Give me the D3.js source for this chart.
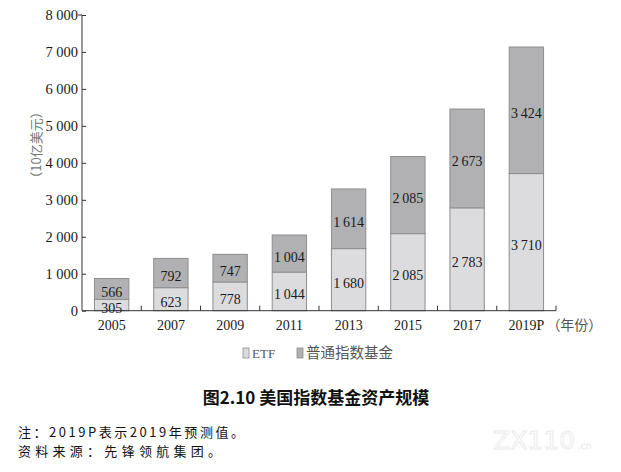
<!DOCTYPE html>
<html>
<head>
<meta charset="utf-8">
<script src="https://cdn.jsdelivr.net/npm/d3@7/dist/d3.min.js"></script>
<style>
  html, body { margin: 0; padding: 0; background: #fff; }
  svg { display: block; }
</style>
</head>
<body>
<svg id="chart" width="621" height="472"></svg>
<script>
const years = ["2005", "2007", "2009", "2011", "2013", "2015", "2017", "2019P"];
const etfValues = [305, 623, 778, 1044, 1680, 2085, 2783, 3710];
const indexFundValues = [566, 792, 747, 1004, 1614, 2085, 2673, 3424];
const yTicks = [0, 1000, 2000, 3000, 4000, 5000, 6000, 7000, 8000];
const seriesNames = ["ETF", "普通指数基金"];
const titleText = "图2.10 美国指数基金资产规模";
const noteLines = ["注：2019P表示2019年预测值。", "资料来源：先锋领航集团。"];
const yAxisLabel = "（10亿美元）";
const xUnitLabel = "（年份）";

const colors = ["#dcdcdf", "#b1b1b4"];
const serif = "'Liberation Serif', 'DejaVu Serif', serif";
const cjk = "'Noto Sans CJK SC', 'Noto Sans', sans-serif";

const svg = d3.select("#chart");

const rows = years.map((y, i) => ({ year: y, ETF: etfValues[i], "普通指数基金": indexFundValues[i] }));
const stacked = d3.stack().keys(seriesNames)(rows);

const x = d3.scaleBand().domain(years).range([82, 556]).paddingInner(0.42).paddingOuter(0.21);
const y = d3.scaleLinear().domain([0, 8000]).range([310.7, 15]);

const fmt = v => {
  const s = String(v);
  return s.length > 3 ? s.slice(0, s.length - 3) + "\u2009" + s.slice(-3) : s;
};
const fmtTick = v => {
  const s = String(v);
  return s.length > 3 ? s.slice(0, s.length - 3) + " " + s.slice(-3) : s;
};

// Bars
const groups = svg.append("g").selectAll("g").data(stacked).join("g")
  .attr("fill", (d, i) => colors[i]);
groups.selectAll("rect").data(d => d).join("rect")
  .attr("x", d => x(d.data.year))
  .attr("width", x.bandwidth())
  .attr("y", d => y(d[1]))
  .attr("height", d => y(d[0]) - y(d[1]))
  .attr("stroke", "#8e8e90")
  .attr("stroke-width", 1);

// Bar labels
groups.selectAll("text").data(d => d).join("text")
  .attr("x", d => x(d.data.year) + x.bandwidth() / 2)
  .attr("y", d => (y(d[0]) + y(d[1])) / 2 + 8)
  .attr("text-anchor", "middle")
  .attr("font-family", serif)
  .attr("font-size", 14)
  .attr("fill", "#1a1a1a")
  .text(d => fmt(d[1] - d[0]));

// Y axis
const yAxis = d3.axisLeft(y).tickValues(yTicks).tickSize(-4).tickPadding(8).tickFormat(fmtTick);
const gy = svg.append("g").attr("transform", "translate(82,0)").call(yAxis);
gy.select(".domain").attr("stroke", "#333").attr("d", `M-4,${y(8000)}H0V${y(0)}`);
gy.selectAll(".tick line").attr("stroke", "#333");
gy.selectAll(".tick text")
  .attr("font-family", serif).attr("font-size", 14.5).attr("fill", "#1a1a1a")
  .attr("x", -4).attr("dy", "0.34em");

// X axis baseline and boundary ticks
const gx = svg.append("g").attr("transform", `translate(0,${y(0)})`);
gx.append("line").attr("x1", 82).attr("x2", 556).attr("stroke", "#333");
gx.selectAll("line.b").data(years).join("line").attr("class", "b")
  .attr("x1", d => x(d) + x.bandwidth() + x.step() * x.paddingInner() / 2)
  .attr("x2", d => x(d) + x.bandwidth() + x.step() * x.paddingInner() / 2)
  .attr("y1", 0).attr("y2", -5).attr("stroke", "#333");
gx.selectAll("text").data(years).join("text")
  .attr("x", d => x(d) + x.bandwidth() / 2)
  .attr("y", 19)
  .attr("text-anchor", "middle")
  .attr("font-family", serif).attr("font-size", 14).attr("fill", "#1a1a1a")
  .text(d => d);
gx.append("text")
  .attr("x", x(years[years.length - 1]) + x.bandwidth() / 2 + 20)
  .attr("y", 19)
  .attr("font-family", cjk).attr("font-size", 14).attr("fill", "#555")
  .text(xUnitLabel);

// Y axis label
svg.append("text")
  .attr("transform", "translate(41,145) rotate(-90)")
  .attr("text-anchor", "middle")
  .attr("font-family", cjk).attr("font-size", 13).attr("fill", "#777")
  .text(yAxisLabel);

// Legend
const legendX = [243, 297];
const legend = svg.append("g").selectAll("g").data(seriesNames).join("g")
  .attr("transform", (d, i) => `translate(${legendX[i]},348)`);
legend.append("rect").attr("width", 6).attr("height", 10)
  .attr("fill", (d, i) => colors[i]).attr("stroke", "#8e8e90").attr("stroke-width", 0.8);
legend.append("text").attr("x", 9).attr("y", 10)
  .attr("font-family", (d, i) => i === 0 ? serif : cjk)
  .attr("font-size", (d, i) => i === 0 ? 13 : 14.5)
  .attr("fill", "#555")
  .text(d => d);

// Title
svg.append("text").attr("x", 316).attr("y", 404).attr("text-anchor", "middle")
  .attr("font-family", cjk).attr("font-weight", "bold").attr("font-size", 17).attr("fill", "#111")
  .text(titleText);

// Notes
const noteLens = [226, 203];
svg.selectAll("text.note").data(noteLines).join("text").attr("class", "note")
  .attr("x", 18).attr("y", (d, i) => 437 + i * 19)
  .attr("font-family", cjk).attr("font-size", 13).attr("fill", "#111")
  .attr("textLength", (d, i) => noteLens[i]).attr("lengthAdjust", "spacing")
  .text(d => d);

// Watermark
svg.append("text").attr("x", 493).attr("y", 449)
  .attr("font-family", "'DejaVu Sans', sans-serif").attr("font-size", 25)
  .attr("fill", "#fff").attr("stroke", "#ececec").attr("stroke-width", 1)
  .text("ZX110");
svg.append("text").attr("x", 578).attr("y", 449)
  .attr("font-family", "'DejaVu Sans', sans-serif").attr("font-size", 9)
  .attr("fill", "#fff").attr("stroke", "#ececec").attr("stroke-width", 0.6)
  .text(".cn");
</script>
</body>
</html>
